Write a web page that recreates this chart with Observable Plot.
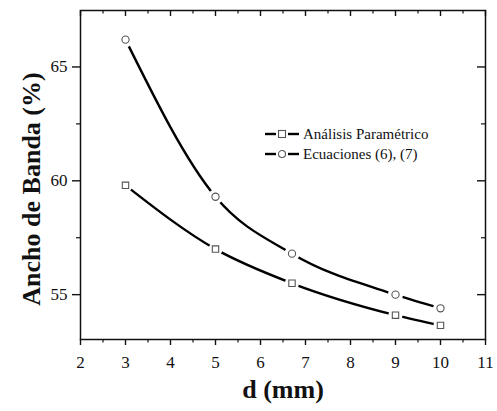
<!DOCTYPE html>
<html>
<head>
<meta charset="utf-8">
<script src="https://cdn.jsdelivr.net/npm/d3@7"></script>
<script src="https://cdn.jsdelivr.net/npm/@observablehq/plot@0.6"></script>
<style>
  html, body { margin: 0; padding: 0; background: #fff; }
  #wrap { position: relative; width: 497px; height: 411px; font-family: "Liberation Serif", "Times New Roman", serif; }
  #wrap svg text { font-family: "Liberation Serif", "Times New Roman", serif; }
  #legend { position: absolute; left: 264px; top: 124px; font-size: 15px; line-height: 20px; color: #111; font-family: "Liberation Serif", serif; }
  #legend .row { display: flex; align-items: center; white-space: nowrap; }
  #legend svg { margin-right: 3px; }
</style>
</head>
<body>
<div id="wrap"></div>
<script>
// Data
const dValues = [3, 5, 6.7, 9, 10];
const analisisParametrico = [59.8, 57.0, 55.5, 54.1, 53.65];
const ecuaciones = [66.2, 59.3, 56.8, 55.0, 54.4];
const seriesNames = ["Análisis Paramétrico", "Ecuaciones (6), (7)"];
const xTicks = [2, 3, 4, 5, 6, 7, 8, 9, 10, 11];
const xMinorTicks = [2.5, 3.5, 4.5, 5.5, 6.5, 7.5, 8.5, 9.5, 10.5];
const yTicks = [55, 60, 65];
const yMinorTicks = [57.5, 62.5];
const xLabel = "d (mm)";
const yLabel = "Ancho de Banda (%)";

const W = 497, H = 411;
const mL = 80, mR = 12, mT = 10, mB = 72;
const pw = W - mL - mR, ph = H - mT - mB;

const sq = dValues.map((d, i) => ({d, v: analisisParametrico[i]}));
const ci = dValues.map((d, i) => ({d, v: ecuaciones[i]}));

const chart = Plot.plot({
  width: W, height: H,
  marginLeft: mL, marginRight: mR, marginTop: mT, marginBottom: mB,
  style: "font-family: 'Liberation Serif', serif; font-size: 17px; color: #111; background: #fff;",
  x: {domain: [2, 11]},
  y: {domain: [53.03, 67.48]},
  marks: [
    // curves
    Plot.line(sq, {x: "d", y: "v", curve: "monotone-x", stroke: "#000", strokeWidth: 2.4}),
    Plot.line(ci, {x: "d", y: "v", curve: "monotone-x", stroke: "#000", strokeWidth: 2.4}),
    // gaps around markers
    Plot.dot(sq, {x: "d", y: "v", r: 7, fill: "#fff", stroke: "none"}),
    Plot.dot(ci, {x: "d", y: "v", r: 7.5, fill: "#fff", stroke: "none"}),
    // markers
    Plot.dot(sq, {x: "d", y: "v", symbol: "square", r: 3.6, fill: "#fff", stroke: "#555", strokeWidth: 1.1}),
    Plot.dot(ci, {x: "d", y: "v", symbol: "circle", r: 3.6, fill: "#fff", stroke: "#555", strokeWidth: 1.1}),
    // frame
    Plot.frame({stroke: "#111", strokeWidth: 1.5}),
    // bottom axis (outward ticks)
    Plot.axisX(xTicks, {anchor: "bottom", tickSize: 6, tickPadding: 10, strokeWidth: 1.4, fontSize: 17, label: null, tickFormat: d => String(d)}),
    Plot.axisX(xMinorTicks, {anchor: "bottom", tickSize: 3.5, text: null, strokeWidth: 1.2, label: null}),
    // top ticks (inward)
    Plot.tickX(xTicks, {x: d => d, insetBottom: ph - 6, stroke: "#111", strokeWidth: 1.4}),
    Plot.tickX(xMinorTicks, {x: d => d, insetBottom: ph - 3.5, stroke: "#111", strokeWidth: 1.2}),
    // left axis (outward ticks)
    Plot.axisY(yTicks, {anchor: "left", tickSize: 8, tickPadding: 5, strokeWidth: 1.4, fontSize: 17, label: null}),
    Plot.axisY(yMinorTicks, {anchor: "left", tickSize: 4, text: null, strokeWidth: 1.2, label: null}),
    // right ticks (inward)
    Plot.tickY(yTicks, {y: d => d, insetLeft: pw - 8, stroke: "#111", strokeWidth: 1.4}),
    Plot.tickY(yMinorTicks, {y: d => d, insetLeft: pw - 4, stroke: "#111", strokeWidth: 1.2}),
    // axis titles
    Plot.text([xLabel], {text: d => d, frameAnchor: "bottom", dy: 58, fontSize: 26, fontWeight: "bold", fill: "#111"}),
    Plot.text([yLabel], {text: d => d, frameAnchor: "left", textAnchor: "middle", rotate: -90, dx: -49, dy: 14, fontSize: 26, fontWeight: "bold", fill: "#111"})
  ]
});
document.getElementById("wrap").appendChild(chart);

// legend
const legend = document.createElement("div");
legend.id = "legend";
const symbols = ["square", "circle"];
seriesNames.forEach((name, i) => {
  const row = document.createElement("div");
  row.className = "row";
  const marker = symbols[i] === "square"
    ? '<rect x="14.5" y="2.5" width="7" height="7" fill="#fff" stroke="#555" stroke-width="1.1"/>'
    : '<circle cx="18" cy="6" r="3.5" fill="#fff" stroke="#555" stroke-width="1.1"/>';
  row.innerHTML = '<svg width="36" height="12"><line x1="1" y1="6" x2="12" y2="6" stroke="#000" stroke-width="2.4"/><line x1="24" y1="6" x2="35" y2="6" stroke="#000" stroke-width="2.4"/>' + marker + '</svg><span>' + name + '</span>';
  legend.appendChild(row);
});
document.getElementById("wrap").appendChild(legend);
</script>
</body>
</html>
